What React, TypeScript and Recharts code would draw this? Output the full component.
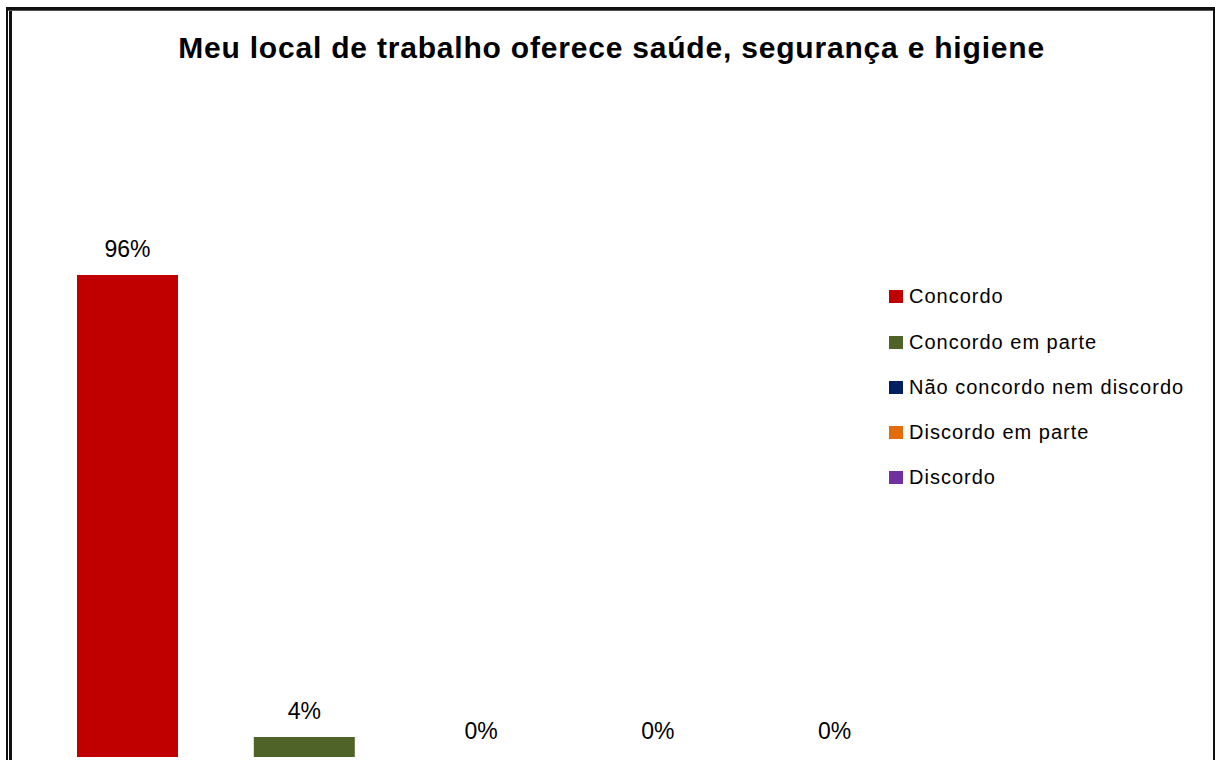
import React from "react";
import { BarChart, Bar, XAxis, YAxis, Cell, LabelList, Legend } from "recharts";

// Survey answers, share of respondents (%)
const categories = [
  "Concordo",
  "Concordo em parte",
  "Não concordo nem discordo",
  "Discordo em parte",
  "Discordo",
];
const shares = [96, 4, 0, 0, 0];
const colors = ["#C00000", "#4F6228", "#002060", "#E36C09", "#7030A0"];

const TITLE = "Meu local de trabalho oferece saúde, segurança e higiene";

const data = categories.map((name, i) => ({ name, value: shares[i] }));

// Legend listing every category with its colour (one series, coloured per point)
function CategoryLegend() {
  return (
    <div>
      {categories.map((c, i) => (
        <div
          key={c}
          style={{
            display: "flex",
            alignItems: "flex-end",
            height: 45.3,
            fontFamily: "'Liberation Sans', Arial, sans-serif",
            fontSize: 20,
            letterSpacing: 1,
            color: "#000",
          }}
        >
          <span
            style={{
              display: "inline-block",
              width: 14,
              height: 13,
              background: colors[i],
              marginRight: 6,
              marginBottom: 4,
            }}
          />
          <span style={{ lineHeight: "22px" }}>{c}</span>
        </div>
      ))}
    </div>
  );
}

export default function App() {
  return (
    <div
      style={{
        position: "fixed",
        left: 0,
        top: 0,
        width: 1215,
        height: 760,
        overflow: "hidden",
        background: "#fff",
      }}
    >
      {/* frame lines */}
      <div style={{ position: "absolute", left: 6, top: 7, width: 1209, height: 3, background: "#111" }} />
      <div style={{ position: "absolute", left: 6, top: 10, width: 1209, height: 1, background: "#555" }} />
      <div style={{ position: "absolute", left: 6, top: 7, width: 2, height: 760, background: "#111" }} />
      <div style={{ position: "absolute", left: 9, top: 11, width: 3, height: 760, background: "#111" }} />
      <div style={{ position: "absolute", left: 1213, top: 7, width: 2, height: 760, background: "#111" }} />

      <div
        style={{
          position: "absolute",
          left: 4,
          top: 33,
          width: 1215,
          textAlign: "center",
          fontFamily: "'Liberation Sans', Arial, sans-serif",
          fontWeight: "bold",
          fontSize: 30,
          lineHeight: "30px",
          letterSpacing: 0.8,
          color: "#000",
          whiteSpace: "nowrap",
        }}
      >
        {TITLE}
      </div>

      <div style={{ position: "absolute", left: 0, top: 0 }}>
        <BarChart
          width={1215}
          height={760}
          data={data}
          margin={{ top: 255, right: 292, bottom: 3, left: 39 }}
        >
          <XAxis dataKey="name" hide />
          <YAxis domain={[0, 100]} hide />
          <Legend
            layout="horizontal"
            verticalAlign="middle"
            align="center"
            content={<CategoryLegend />}
            wrapperStyle={{ left: 889, top: 262, width: 320 }}
          />
          <Bar
            dataKey="value"
            barSize={101}
            minPointSize={(v: number) => (v === 0 ? 0.01 : 0)}
            isAnimationActive={false}
          >
            {data.map((d, i) => (
              <Cell key={d.name} fill={colors[i]} />
            ))}
            <LabelList
              dataKey="value"
              position="top"
              offset={18}
              formatter={(v: number) => `${v}%`}
              style={{
                fontFamily: "'Liberation Sans', Arial, sans-serif",
                fontSize: 23,
                fill: "#000",
              }}
            />
          </Bar>
        </BarChart>
      </div>
    </div>
  );
}
